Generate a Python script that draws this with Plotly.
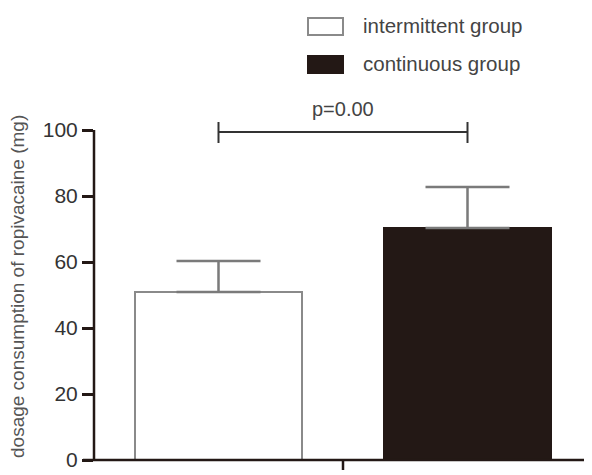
import plotly.graph_objects as go

# Data
groups = ["intermittent group", "continuous group"]
means = [50.9, 70.3]
errors = [9.4, 12.4]
fill_colors = ["#ffffff", "#231815"]
line_colors = ["#8a8a8a", "#231815"]
y_ticks = [0, 20, 40, 60, 80, 100]
p_label = "p=0.00"
y_title = "dosage consumption of ropivacaine (mg)"

OFF = 8  # page body margin in the viewer
W, H = 592 - OFF, 475 - OFF
# reference pixel geometry
AX_X, AX_Y0, PX_UNIT = 94, 460, 3.3
ML, MR, MT = AX_X - OFF, 0, 0
MB = H - (AX_Y0 - OFF)
plot_h = H - MT - MB
px_w = W - ML - MR
y_top = plot_h / PX_UNIT

FONT = "Liberation Sans, Arial, sans-serif"

def pxx(x):
    # reference pixel x -> paper
    return (x - OFF - ML) / px_w

def pyy(y):
    # reference pixel y -> paper
    return (plot_h - (y - OFF - MT)) / plot_h

def py(v):
    return v / y_top

fig = go.Figure()
for i, g in enumerate(groups):
    fig.add_trace(go.Bar(
        x=[g], y=[means[i]], name=g,
        marker=dict(color=fill_colors[i], line=dict(color=line_colors[i], width=2)),
        width=0.667,
        error_y=dict(type="data", symmetric=False, array=[errors[i]], arrayminus=[0],
                     color="#7a7a7a", thickness=2.5, width=42),
        showlegend=False,
    ))

axis_col = "#231815"
shapes = []
shapes.append(dict(type="line", xref="paper", yref="paper", x0=0, x1=0,
                   y0=py(0), y1=py(100), line=dict(color=axis_col, width=2.5)))
shapes.append(dict(type="line", xref="paper", yref="paper", x0=pxx(83), x1=1,
                   y0=0, y1=0, line=dict(color=axis_col, width=2.5)))
shapes.append(dict(type="line", xref="x", yref="paper", x0=0.5, x1=0.5,
                   y0=0, y1=-10 / plot_h, line=dict(color=axis_col, width=2.5)))
bracket_y = 99.4
shapes.append(dict(type="line", xref="x", yref="paper", x0=0, x1=1,
                   y0=py(bracket_y), y1=py(bracket_y), line=dict(color="#333333", width=2)))
for xv in [0, 1]:
    shapes.append(dict(type="line", xref="x", yref="paper", x0=xv, x1=xv,
                       y0=py(bracket_y) - 11 / plot_h, y1=py(bracket_y) + 10 / plot_h,
                       line=dict(color="#333333", width=2)))

swatches = [(18, 35), (56, 73)]
for i, (ya, yb) in enumerate(swatches):
    shapes.append(dict(type="rect", xref="paper", yref="paper",
                       x0=pxx(308), x1=pxx(343), y0=pyy(yb), y1=pyy(ya),
                       fillcolor=fill_colors[i], line=dict(color=line_colors[i], width=2)))

annotations = []
for i, (ya, yb) in enumerate(swatches):
    annotations.append(dict(text=groups[i], xref="paper", yref="paper",
                            x=pxx(361), y=pyy((ya + yb) / 2 - 1), xanchor="left", yanchor="middle",
                            showarrow=False, font=dict(size=20.5, color="#444444", family=FONT)))
annotations.append(dict(text=p_label, xref="x", yref="paper", x=0.5, y=pyy(109),
                        xanchor="center", yanchor="middle", showarrow=False,
                        font=dict(size=20, color="#444444", family=FONT)))
annotations.append(dict(text=y_title, xref="paper", yref="paper", x=pxx(17), y=pyy(287),
                        xanchor="center", yanchor="middle", textangle=-90, showarrow=False,
                        font=dict(size=19, color="#555555", family=FONT)))

fig.update_layout(
    width=W, height=H,
    margin=dict(l=ML, r=MR, t=MT, b=MB, pad=0),
    plot_bgcolor="white", paper_bgcolor="white",
    bargap=0,
    shapes=shapes, annotations=annotations,
    xaxis=dict(range=[-0.5, 1.5], showticklabels=False, showline=False, showgrid=False,
               zeroline=False, ticks=""),
    yaxis=dict(range=[0, y_top], tickvals=y_ticks, ticks="outside", ticklen=11, tickwidth=2.5,
               tickcolor=axis_col, showline=False, showgrid=False, zeroline=False,
               tickfont=dict(size=21, color="#333333", family=FONT)),
    showlegend=False,
)

fig.write_html("out.html")
